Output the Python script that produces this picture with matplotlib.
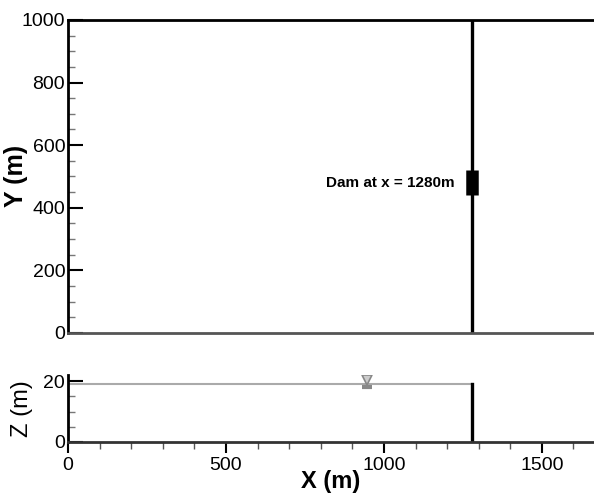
import numpy as np
import matplotlib.pyplot as plt
from matplotlib.ticker import MultipleLocator

plt.rcParams['font.family'] = ['Liberation Sans', 'DejaVu Sans']

# plan view
dam_x = 1280.0
y_extent = [0, 1000]
gate_y = [440, 520]
# side view
water_z = 19.0
dam_top = 19.0
marker_x = 945.0
x_max = 1665.0

fig = plt.figure(figsize=(5.94, 4.97), dpi=100)
ax1 = fig.add_axes([0.1145, 0.33, 0.8855, 0.63])
ax2 = fig.add_axes([0.1145, 0.1107, 0.8855, 0.1348])

# top panel
ax1.plot([dam_x, dam_x], y_extent, color='black', lw=2.4)
ax1.plot([dam_x, dam_x], gate_y, color='black', lw=9, solid_capstyle='butt')
ax1.text(dam_x - 55, np.mean(gate_y), 'Dam at x = 1280m', ha='right', va='center',
         fontsize=11, fontweight='bold')
ax1.set_xlim(0, x_max)
ax1.set_ylim(0, 1000)
ax1.yaxis.set_major_locator(MultipleLocator(200))
ax1.yaxis.set_minor_locator(MultipleLocator(50))
ax1.tick_params(axis='x', bottom=False, labelbottom=False)
ax1.tick_params(axis='y', which='major', direction='in', length=11, width=1.5, labelsize=14, pad=2)
ax1.tick_params(axis='y', which='minor', direction='in', length=5, width=1, color='#777777')
ax1.spines['right'].set_visible(False)
ax1.spines['left'].set_linewidth(2)
ax1.spines['top'].set_linewidth(2)
ax1.spines['bottom'].set_linewidth(2)
ax1.spines['bottom'].set_color('#555555')
ax1.set_ylabel('Y (m)', fontsize=18, fontweight='bold')
ax1.yaxis.set_label_coords(-0.076, 0.5)

# bottom panel
ax2.plot([0, dam_x], [water_z, water_z], color='#aaaaaa', lw=1.5)
ax2.plot([dam_x, dam_x], [0, dam_top], color='black', lw=2.4)
ax2.plot([marker_x], [water_z + 1.2], marker='v', ms=7, mfc='#cccccc', mec='#888888', mew=1.2)
ax2.plot([marker_x], [water_z - 1.0], marker='_', ms=7, color='#888888', mew=3)
ax2.set_xlim(0, x_max)
ax2.set_ylim(0, 22)
ax2.xaxis.set_major_locator(MultipleLocator(500))
ax2.xaxis.set_minor_locator(MultipleLocator(100))
ax2.yaxis.set_major_locator(MultipleLocator(20))
ax2.yaxis.set_minor_locator(MultipleLocator(5))
ax2.tick_params(axis='both', which='major', direction='in', length=11, width=1.5, labelsize=14, pad=2)
ax2.tick_params(axis='x', which='major', direction='out', length=8, pad=3)
ax2.tick_params(axis='x', which='minor', direction='out', length=5, width=1, color='#555555')
ax2.tick_params(axis='y', which='minor', direction='in', length=5, width=1, color='#777777')
ax2.spines['right'].set_visible(False)
ax2.spines['top'].set_visible(False)
ax2.spines['left'].set_linewidth(2)
ax2.spines['bottom'].set_linewidth(2)
ax2.spines['bottom'].set_color('#333333')
ax2.set_ylabel('Z (m)', fontsize=17)
ax2.yaxis.set_label_coords(-0.067, 0.5)
ax2.set_xlabel('X (m)', fontsize=17, fontweight='bold', labelpad=-3)

fig.savefig('out.png', dpi=100)
